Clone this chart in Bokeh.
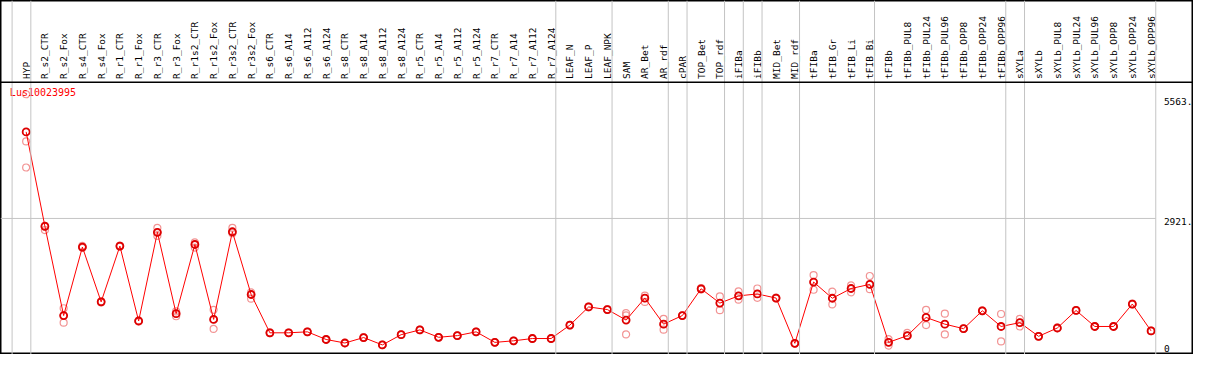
from math import pi
from bokeh.plotting import figure
from bokeh.models import Range1d, Span, ColumnDataSource
from bokeh.core.properties import value
from bokeh.embed import file_html
from bokeh.resources import INLINE

# ---------------- data ----------------
gene = "Lus10023995"

samples = [
    "HYP", "R_s2_CTR", "R_s2_Fox", "R_s4_CTR", "R_s4_Fox", "R_r1_CTR", "R_r1_Fox",
    "R_r3_CTR", "R_r3_Fox", "R_r1s2_CTR", "R_r1s2_Fox", "R_r3s2_CTR", "R_r3s2_Fox",
    "R_s6_CTR", "R_s6_A14", "R_s6_A112", "R_s6_A124", "R_s8_CTR", "R_s8_A14",
    "R_s8_A112", "R_s8_A124", "R_r5_CTR", "R_r5_A14", "R_r5_A112", "R_r5_A124",
    "R_r7_CTR", "R_r7_A14", "R_r7_A112", "R_r7_A124", "LEAF_N", "LEAF_P", "LEAF_NPK",
    "SAM", "AR_Bet", "AR_rdf", "cPAR", "TOP_Bet", "TOP_rdf", "iFIBa", "iFIBb",
    "MID_Bet", "MID_rdf", "tFIBa", "tFIB_Gr", "tFIB_Li", "tFIB_Bi", "tFIBb",
    "tFIBb_PUL8", "tFIBb_PUL24", "tFIBb_PUL96", "tFIBb_OPP8", "tFIBb_OPP24",
    "tFIBb_OPP96", "sXYLa", "sXYLb", "sXYLb_PUL8", "sXYLb_PUL24", "sXYLb_PUL96",
    "sXYLb_OPP8", "sXYLb_OPP24", "sXYLb_OPP96",
]

expr_mean = [
    4813, 2750, 799, 2296, 1098, 2317, 680, 2618, 841, 2352, 715, 2630, 1259,
    422, 422, 443, 276, 199, 318, 157, 381, 485, 324, 360, 443, 213, 247, 297, 297,
    590, 987, 930, 700, 1181, 611, 799, 1384, 1071, 1229, 1271, 1181, 192,
    1531, 1177, 1390, 1480, 213, 360, 757, 611, 512, 903, 560, 644, 345, 527,
    910, 560, 560, 1050, 464,
]

rep_1 = [
    5635, 2760, 958, 2320, 1110, 2330, 690, 2714, 784, 2400, 924, 2714, 1167,
    430, 428, 450, 284, 205, 326, 163, 388, 493, 330, 368, 450, 220, 254, 304, 304,
    598, 995, 938, 853, 1236, 728, 806, 1400, 1217, 1327, 1390, 1190, 199,
    1684, 1321, 1460, 1663, 282, 422, 924, 841, 520, 912, 833, 728, 352, 535,
    918, 568, 567, 1058, 472,
]

rep_2 = [
    4604, 2666, 644, 2280, 1086, 2304, 670, 2540, 889, 2285, 506, 2597, 1307,
    414, 416, 436, 268, 193, 310, 151, 374, 478, 318, 352, 436, 206, 240, 290, 290,
    582, 979, 922, 802, 1097, 491, 792, 1370, 916, 1145, 1187, 1172, 186,
    1363, 1041, 1306, 1376, 142, 350, 590, 387, 505, 895, 234, 560, 338, 520,
    902, 552, 553, 1042, 456,
]

rep_3 = [
    4034, 2740, 800, 2296, 1098, 2317, 680, 2618, 841, 2352, 715, 2630, 1259,
    422, 422, 443, 276, 199, 318, 157, 381, 485, 324, 360, 443, 213, 247, 297, 297,
    590, 987, 930, 387, 1181, 611, 799, 1384, 1071, 1229, 1271, 1181, 192,
    1531, 1177, 1390, 1480, 213, 360, 757, 611, 512, 903, 560, 644, 345, 527,
    910, 560, 560, 1050, 464,
]

# number of samples in each tissue group (separated by grey lines)
group_sizes = [1, 28, 3, 3, 1, 2, 1, 1, 2, 4, 7, 1, 7]

tick_values = [0, 2921, 5563]
tick_labels = ["0", "2921.", "5563."]

# ---------------- layout ----------------
W, H = 1193, 354
REF_W, REF_H = 1209, 370
X0, DX = 26.0, 19.0          # reference pixel of first column, column step
Y0, KY = 367.5, 0.047826     # reference pixel of value 0, pixels per unit


def vy(py):
    return (Y0 - py) / KY


def vx(px):
    return (px - X0) / DX


idx = list(range(len(samples)))

p = figure(
    width=W, height=H,
    x_range=Range1d(vx(0), vx(REF_W)),
    y_range=Range1d(vy(REF_H), vy(0)),
    output_backend="svg", toolbar_location=None,
    x_axis_location=None, y_axis_location=None,
    min_border=0,
)
p.grid.visible = False
p.background_fill_color = "white"
p.border_fill_color = "white"
p.outline_line_color = "black"
p.outline_line_width = 2

# group separators
bounds = [-1]
acc = -1
for g in group_sizes:
    acc += g
    bounds.append(acc)
for b in bounds:
    p.add_layout(Span(location=b + 0.25, dimension="height",
                      line_color="#c4c4c4", line_width=1))

# header separator
p.add_layout(Span(location=vy(85.5), dimension="width",
                  line_color="black", line_width=1.5))

# grid line at middle tick
p.segment(x0=[vx(0)], y0=[tick_values[1]], x1=[bounds[-1] + 0.25], y1=[tick_values[1]],
          line_color="#c4c4c4", line_width=1)

# sample labels in header
lab_src = ColumnDataSource(dict(x=idx, y=[vy(82)] * len(idx), text=samples))
p.text(x="x", y="y", text="text", source=lab_src, angle=pi / 2,
       text_align="left", text_baseline="middle",
       text_font=value("DejaVu Sans Mono"), text_font_size="9.5px",
       text_color="black")

# replicates
for rep in (rep_1, rep_2, rep_3):
    p.scatter(idx, rep, marker="circle", size=7, fill_color=None,
              line_color="#f08080", line_alpha=0.85, line_width=1.2)

# mean line + markers
p.line(idx, expr_mean, line_color="red", line_width=1)
p.scatter(idx, expr_mean, marker="circle", size=7, fill_color=None,
          line_color="#dd0000", line_width=1.8)

# title
p.text(x=[vx(9.5)], y=[vy(96.5)], text=[gene], text_align="left",
       text_baseline="middle", text_font=value("DejaVu Sans Mono"),
       text_font_size="10px", text_color="red")

# tick labels on right
tick_src = ColumnDataSource(dict(
    x=[vx(1179)] * 3, y=tick_values, text=tick_labels,
    base=["bottom", "top", "top"]))
p.text(x="x", y="y", text="text", source=tick_src, text_align="left",
       text_baseline="base", text_font=value("DejaVu Sans Mono"),
       text_font_size="9.5px", text_color="black")

open("out.html", "w").write(file_html(p, INLINE))
